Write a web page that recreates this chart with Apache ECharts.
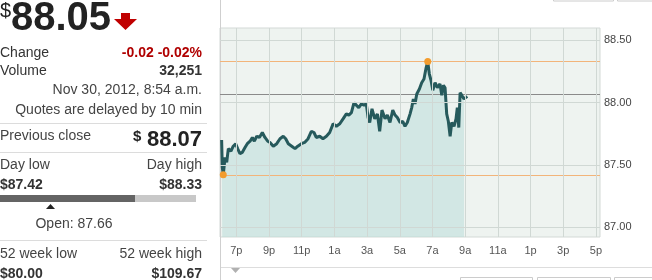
<!DOCTYPE html>
<html>
<head>
<meta charset="utf-8">
<script src="https://cdn.jsdelivr.net/npm/echarts@6/dist/echarts.min.js"></script>
<style>
html,body{margin:0;padding:0;background:#fff;}
#chart{width:652px;height:280px;}
</style>
</head>
<body>
<div id="chart"></div>
<script>
// ---- Data ----
// time of each quote, in hours after 6 p.m. (Nov 29 evening -> Nov 30 morning)
var hoursSince6pm = [0.10,0.14,0.20,0.31,0.41,0.51,0.67,0.81,0.96,1.08,1.22,1.36,1.53,1.67,1.84,1.98,2.10,2.25,2.41,2.59,2.75,2.92,3.06,3.26,3.47,3.67,3.87,4.02,4.18,4.39,4.59,4.76,4.98,5.18,5.39,5.59,5.75,5.89,6.10,6.30,6.51,6.71,6.92,7.12,7.33,7.53,7.73,7.88,8.04,8.20,8.34,8.49,8.65,8.81,8.95,9.06,9.16,9.30,9.47,9.63,9.77,9.91,10.10,10.24,10.40,10.57,10.71,10.85,11.02,11.18,11.32,11.46,11.63,11.73,11.83,11.93,12.04,12.20,12.34,12.48,12.61,12.71,12.81,12.91,13.02,13.16,13.30,13.46,13.57,13.67,13.77,13.87,13.97,14.08,14.18,14.32,14.44,14.52,14.61,14.69,14.79,14.93,15.05,15.13];
var prices = [87.70,87.48,87.42,87.56,87.52,87.63,87.61,87.65,87.67,87.63,87.59,87.60,87.64,87.67,87.69,87.72,87.69,87.73,87.72,87.76,87.72,87.69,87.68,87.65,87.67,87.71,87.73,87.71,87.67,87.65,87.63,87.65,87.67,87.68,87.71,87.77,87.76,87.72,87.73,87.71,87.73,87.76,87.83,87.81,87.83,87.87,87.91,87.90,87.92,88.00,87.98,87.96,87.99,87.98,87.99,87.88,87.84,87.95,87.87,87.91,87.77,87.94,87.87,87.90,87.84,87.94,87.90,87.88,87.84,87.85,87.81,87.84,87.91,87.96,88.03,87.99,88.07,88.11,88.16,88.19,88.28,88.33,88.23,88.18,88.10,88.16,88.12,88.15,88.06,88.14,88.12,87.91,87.85,87.73,87.84,87.81,87.87,87.96,87.80,88.08,88.06,88.03,88.04,88.05];
var shadedUntilHour = 15;          // 9 a.m.
var xTickHours  = [1,3,5,7,9,11,13,15,17,19,21,23];
var xTickLabels = ['7p','9p','11p','1a','3a','5a','7a','9a','11a','1p','3p','5p'];
var yTickValues = [87.00,87.50,88.00,88.50];
var dayHigh = 88.33, dayHighHour = 12.71;
var dayLow = 87.42, dayLowHour = 0.20;
var previousClose = 88.07;

var quote = {
  price: '88.05', change: '-0.02 -0.02%', volume: '32,251',
  time: 'Nov 30, 2012, 8:54 a.m.', delay: 'Quotes are delayed by 10 min',
  prevClose: '88.07', dayLow: '$87.42', dayHigh: '$88.33', open: 'Open: 87.66',
  wkLow: '$80.00', wkHigh: '$109.67'
};

// ---- Build ----
var lineData = hoursSince6pm.map(function(h,i){return [h, prices[i]];});
var areaData = lineData.filter(function(p){return p[0] <= shadedUntilHour;});

var FONT = '"Liberation Sans", Arial, sans-serif';
function txt(x,y,text,opt){
  opt = opt || {};
  return {type:'text', silent:true, style:{
    x:x, y:y, text:text, fill:opt.fill||'#333',
    font:(opt.bold?'bold ':'')+(opt.size||14)+'px '+FONT,
    align:opt.align||'left', verticalAlign:'middle'}};
}
function hline(x1,x2,y,color){
  return {type:'line', silent:true, shape:{x1:x1,y1:y,x2:x2,y2:y}, style:{stroke:color||'#dcdcdc',lineWidth:1}};
}

var R = 202;
var graphics = [
  txt(0,11,'$',{size:20,fill:'#222'}),
  txt(11,18.5,quote.price,{size:40,bold:true,fill:'#222'}),
  {type:'polygon', silent:true, shape:{points:[[121,13],[130,13],[130,19],[137,19],[125.5,30],[114,19],[121,19]]}, style:{fill:'#c00000'}},
  txt(0,53,'Change'), txt(R,53,quote.change,{bold:true,fill:'#b00000',align:'right'}),
  txt(0,71.5,'Volume'), txt(R,71.5,quote.volume,{bold:true,align:'right'}),
  txt(R,90.5,quote.time,{fill:'#444',align:'right'}),
  txt(R,110.5,quote.delay,{fill:'#444',align:'right'}),
  hline(0,207,123.5),
  txt(0,136.5,'Previous close',{fill:'#444'}),
  txt(133,137,'$',{size:15,bold:true,fill:'#222'}),
  txt(R,139.5,quote.prevClose,{size:22,bold:true,fill:'#222',align:'right'}),
  hline(0,207,152.5),
  txt(0,165,'Day low',{fill:'#444'}), txt(R,165,'Day high',{fill:'#444',align:'right'}),
  txt(0,185.5,quote.dayLow,{bold:true}), txt(R,185.5,quote.dayHigh,{bold:true,align:'right'}),
  {type:'rect', silent:true, shape:{x:0,y:195,width:135,height:7}, style:{fill:'#646464'}},
  {type:'rect', silent:true, shape:{x:135,y:195,width:61,height:7}, style:{fill:'#c8c8c8'}},
  {type:'polygon', silent:true, shape:{points:[[50.5,204],[55,209],[46,209]]}, style:{fill:'#222'}},
  txt(74,224.5,quote.open,{fill:'#444',align:'center'}),
  hline(0,207,240.5),
  txt(0,254,'52 week low',{fill:'#444'}), txt(R,254,'52 week high',{fill:'#444',align:'right'}),
  txt(0,274,quote.wkLow,{bold:true}), txt(R,274,quote.wkHigh,{bold:true,align:'right'}),
  // right panel frame pieces
  {type:'line', silent:true, shape:{x1:220.5,y1:0,x2:220.5,y2:280}, style:{stroke:'#cfcfcf',lineWidth:1}},
  hline(221,652,267.5,'#dddddd'),
  {type:'polygon', silent:true, shape:{points:[[231,268],[240,268],[235.5,273]]}, style:{fill:'#b0b0b0'}},
  {type:'rect', silent:true, shape:{x:553.5,y:-20,width:60,height:21}, style:{fill:'#fff',stroke:'#cccccc',lineWidth:1}},
  {type:'rect', silent:true, shape:{x:617.5,y:-20,width:40,height:21}, style:{fill:'#fff',stroke:'#cccccc',lineWidth:1}},
  {type:'rect', silent:true, shape:{x:460.5,y:277.5,width:72,height:20}, style:{fill:'#fff',stroke:'#cccccc',lineWidth:1}},
  {type:'rect', silent:true, shape:{x:537.5,y:277.5,width:73,height:20}, style:{fill:'#fff',stroke:'#cccccc',lineWidth:1}},
  {type:'rect', silent:true, shape:{x:614.5,y:277.5,width:45,height:20}, style:{fill:'#fff',stroke:'#cccccc',lineWidth:1}}
];

var gridStyle = {color:'#d0d8d4', width:1, type:'solid'};
var gridLines = xTickHours.map(function(h){return {xAxis:h, lineStyle:gridStyle};})
  .concat(yTickValues.map(function(v){return {yAxis:v, lineStyle:gridStyle};}));

var chart = echarts.init(document.getElementById('chart'), null, {renderer:'canvas'});
chart.setOption({
  animation:false,
  textStyle:{fontFamily:FONT},
  grid:{left:220, right:52, top:28, bottom:43, show:true, backgroundColor:'#eef3f0', borderColor:'#d3d9d6', borderWidth:1},
  xAxis:{
    type:'value', min:0, max:23.25,
    axisLine:{show:false},
    axisTick:{show:false, customValues:xTickHours},
    axisLabel:{customValues:xTickHours, color:'#555', fontSize:11, margin:8,
      formatter:function(v){var i=xTickHours.indexOf(Math.round(v)); return i>=0?xTickLabels[i]:'';}},
    splitLine:{show:false}
  },
  yAxis:{
    type:'value', position:'right', min:86.92, max:88.6,
    axisLine:{show:false},
    axisTick:{show:false, customValues:yTickValues},
    axisLabel:{customValues:yTickValues, color:'#444', fontSize:11, margin:4,
      formatter:function(v){return v.toFixed(2);}},
    splitLine:{show:false}
  },
  series:[
    {type:'line', data:[], silent:true, z:0,
     markLine:{silent:true, symbol:'none', label:{show:false}, animation:false, data:gridLines}},
    {type:'line', data:areaData, showSymbol:false, silent:true, z:1,
     lineStyle:{width:0}, areaStyle:{color:'#b6dbd7', opacity:0.5}},
    {type:'line', data:lineData, showSymbol:false, silent:true, z:3,
     lineStyle:{color:'#265a5c', width:3},
     markLine:{silent:true, symbol:'none', label:{show:false}, z:2,
       data:[
         {yAxis:dayHigh, lineStyle:{color:'#f2b47a', width:1, type:'solid'}},
         {yAxis:dayLow, lineStyle:{color:'#f2b47a', width:1, type:'solid'}},
         {yAxis:previousClose, lineStyle:{color:'#8a8a8a', width:1, type:'solid'}}
       ]},
     markPoint:{silent:true, symbol:'circle', symbolSize:7, label:{show:false},
       itemStyle:{color:'#f39c2e'},
       data:[{coord:[dayHighHour,dayHigh]},{coord:[dayLowHour,dayLow]}]}
    }
  ],
  graphic:graphics
});
</script>
</body>
</html>
